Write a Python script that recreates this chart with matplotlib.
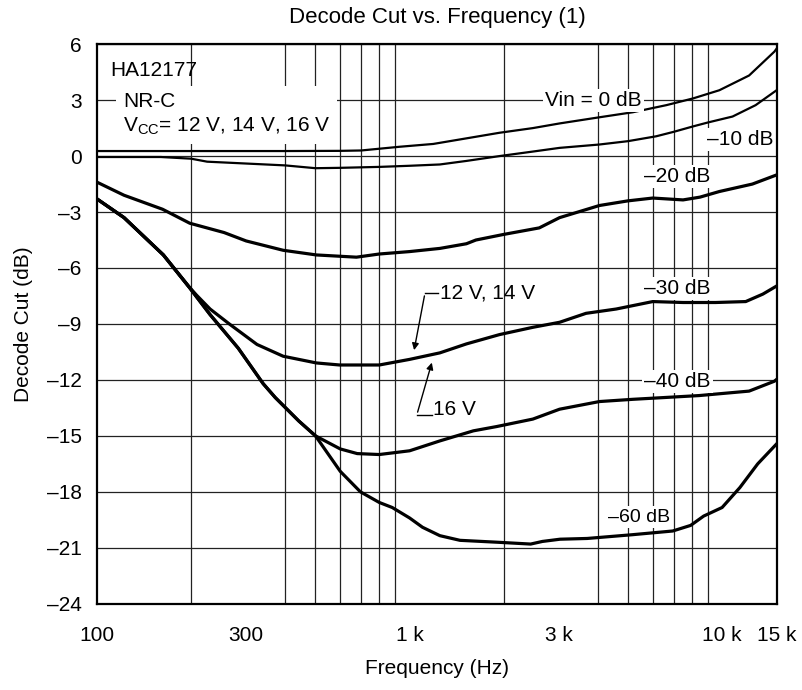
import matplotlib
matplotlib.use("Agg")

import matplotlib.pyplot as plt

plt.rcParams['font.family'] = ['Liberation Sans', 'DejaVu Sans']
plt.rcParams['mathtext.fontset'] = 'custom'
plt.rcParams['mathtext.rm'] = 'Liberation Sans'
plt.rcParams['mathtext.it'] = 'Liberation Sans:italic'

# Vin = 0 dB
vin0_f = [100, 200, 400, 600, 700, 930, 1190, 1520, 1940, 2480, 3020, 4050, 5180, 6630, 8070, 9800, 12200, 14700, 15000]
vin0_db = [0.27, 0.27, 0.27, 0.28, 0.3, 0.5, 0.65, 0.95, 1.25, 1.5, 1.75, 2.08, 2.35, 2.73, 3.09, 3.53, 4.32, 5.6, 5.8]

# -10 dB
m10_f = [100, 160, 200, 225, 300, 400, 500, 600, 800, 1000, 1250, 1520, 1940, 2500, 3020, 4050, 5000, 6150, 7000, 8070, 9000, 10800, 12800, 15000]
m10_db = [-0.05, -0.05, -0.14, -0.3, -0.4, -0.5, -0.65, -0.63, -0.58, -0.52, -0.45, -0.26, 0.0, 0.25, 0.44, 0.62, 0.8, 1.06, 1.3, 1.59, 1.8, 2.12, 2.73, 3.55]

# -20 dB
m20_f = [100, 122, 162, 198, 255, 300, 394, 503, 676, 800, 1000, 1250, 1520, 1630, 2000, 2600, 3020, 4050, 5000, 6000, 7500, 8500, 9800, 12500, 15000]
m20_db = [-1.4, -2.1, -2.85, -3.6, -4.1, -4.55, -5.05, -5.3, -5.42, -5.25, -5.12, -4.95, -4.7, -4.5, -4.2, -3.85, -3.3, -2.65, -2.4, -2.25, -2.35, -2.2, -1.9, -1.5, -1.0]

# -30 dB
m30_f = [100, 122, 163, 198, 208, 230, 265, 325, 394, 503, 597, 800, 1000, 1250, 1520, 1940, 2480, 3020, 3670, 4580, 6000, 7500, 9530, 11900, 13500, 15000]
m30_db = [-2.3, -3.3, -5.3, -7.05, -7.45, -8.2, -9.0, -10.1, -10.73, -11.09, -11.2, -11.2, -10.9, -10.55, -10.07, -9.57, -9.18, -8.91, -8.43, -8.2, -7.8, -7.85, -7.85, -7.8, -7.4, -6.95]

# -40 dB
m40_f = [100, 122, 163, 198, 230, 283, 340, 372, 442, 500, 600, 680, 800, 1000, 1250, 1600, 1900, 2480, 3020, 4050, 5180, 8430, 12200, 14700, 15000]
m40_db = [-2.3, -3.3, -5.3, -7.07, -8.5, -10.3, -12.2, -12.95, -14.2, -15.0, -15.7, -15.95, -16.0, -15.8, -15.27, -14.73, -14.5, -14.1, -13.57, -13.16, -13.04, -12.84, -12.6, -12.07, -11.95]

# -60 dB
m60_f = [100, 122, 163, 198, 230, 283, 340, 372, 442, 500, 600, 696, 800, 880, 1000, 1100, 1250, 1450, 1900, 2440, 2660, 3030, 3700, 5150, 6950, 7930, 8730, 10000, 11400, 13000, 15000]
m60_db = [-2.3, -3.3, -5.3, -7.07, -8.5, -10.3, -12.2, -12.95, -14.2, -15.0, -16.9, -18.0, -18.57, -18.84, -19.4, -19.9, -20.35, -20.6, -20.7, -20.8, -20.66, -20.54, -20.5, -20.3, -20.1, -19.8, -19.3, -18.84, -17.77, -16.5, -15.4]

grid_f = [100, 200, 300, 400, 500, 600, 700, 800, 900,
          1000, 2000, 3000, 4000, 5000, 6000, 7000, 8000, 9000, 10000]
xtick_f = [100, 300, 1000, 3000, 10000, 15000]
xtick_labels = ["100", "300", "1 k", "3 k", "10 k", "15 k"]
ytick_vals = list(range(-24, 7, 3))

fig = plt.figure(figsize=(8.02, 6.9), dpi=100)
ax = fig.add_axes([0.121, 0.125, 0.848, 0.811])

ax.set_xscale("log")
ax.set_xlim(100, 15000)
ax.set_ylim(-24, 6)

ax.set_xticks(xtick_f)
ax.set_xticklabels(xtick_labels)
ax.set_xticks(grid_f, minor=True)
ax.set_yticks(ytick_vals)
ax.set_yticklabels([str(v).replace("-", "\u2013") for v in ytick_vals])
ax.tick_params(which="both", length=0, labelsize=15)
ax.tick_params(axis="x", pad=16)
ax.tick_params(axis="y", pad=11)

ax.grid(which="minor", axis="x", color="#222222", linewidth=0.9)
ax.grid(which="major", axis="x", visible=False)
ax.grid(which="major", axis="y", color="#222222", linewidth=0.9)
ax.set_axisbelow(True)
for s in ax.spines.values():
    s.set_linewidth(1.6)

ax.plot(vin0_f, vin0_db, color="black", lw=1.6)
ax.plot(m10_f, m10_db, color="black", lw=1.6)
ax.plot(m20_f, m20_db, color="black", lw=2.3)
ax.plot(m30_f, m30_db, color="black", lw=2.3)
ax.plot(m40_f, m40_db, color="black", lw=2.3)
ax.plot(m60_f, m60_db, color="black", lw=2.3)

box = dict(facecolor="white", edgecolor="none", pad=1.5)
ax.text(110, 4.6, "HA12177", fontsize=15, va="center", ha="left")
ax.text(121, 2.25, "NR-C\n" + r"$\mathrm{V_{CC}}$= 12 V, 14 V, 16 V", fontsize=15,
        va="center", ha="left", linespacing=1.3,
        bbox=dict(facecolor="white", edgecolor="none", pad=5))
ax.text(3870, 3.0, "Vin = 0 dB", fontsize=15, va="center", ha="center", bbox=box)
ax.text(11400, 0.9, "\u201310 dB", fontsize=15, va="center", ha="center", bbox=box)
ax.text(7200, -1.1, "\u201320 dB", fontsize=15, va="center", ha="center", bbox=box)
ax.text(7200, -7.1, "\u201330 dB", fontsize=15, va="center", ha="center", bbox=box)
ax.text(7200, -12.1, "\u201340 dB", fontsize=15, va="center", ha="center", bbox=box)
ax.text(5440, -19.35, "\u201360 dB", fontsize=14, va="center", ha="center", bbox=box)

# voltage annotations with leaders
ax.text(1250, -7.35, "12 V, 14 V", fontsize=15, va="center", ha="left")
ax.plot([1230, 1120], [-7.35, -7.35], color="black", lw=1)
ax.annotate("", xy=(1030, -10.55), xytext=(1120, -7.35),
            arrowprops=dict(arrowstyle="-|>", color="black", lw=1, mutation_scale=10))
ax.text(1190, -13.6, "16 V", fontsize=15, va="center", ha="left")
ax.plot([1180, 1055], [-13.87, -13.87], color="black", lw=1)
ax.annotate("", xy=(1185, -10.93), xytext=(1055, -13.87),
            arrowprops=dict(arrowstyle="-|>", color="black", lw=1, mutation_scale=10))

ax.set_title("Decode Cut vs. Frequency (1)", fontsize=16, pad=15)
ax.set_xlabel("Frequency (Hz)", fontsize=15, labelpad=10)
ax.set_ylabel("Decode Cut (dB)", fontsize=15, labelpad=10)

fig.savefig("out.png", dpi=100)
